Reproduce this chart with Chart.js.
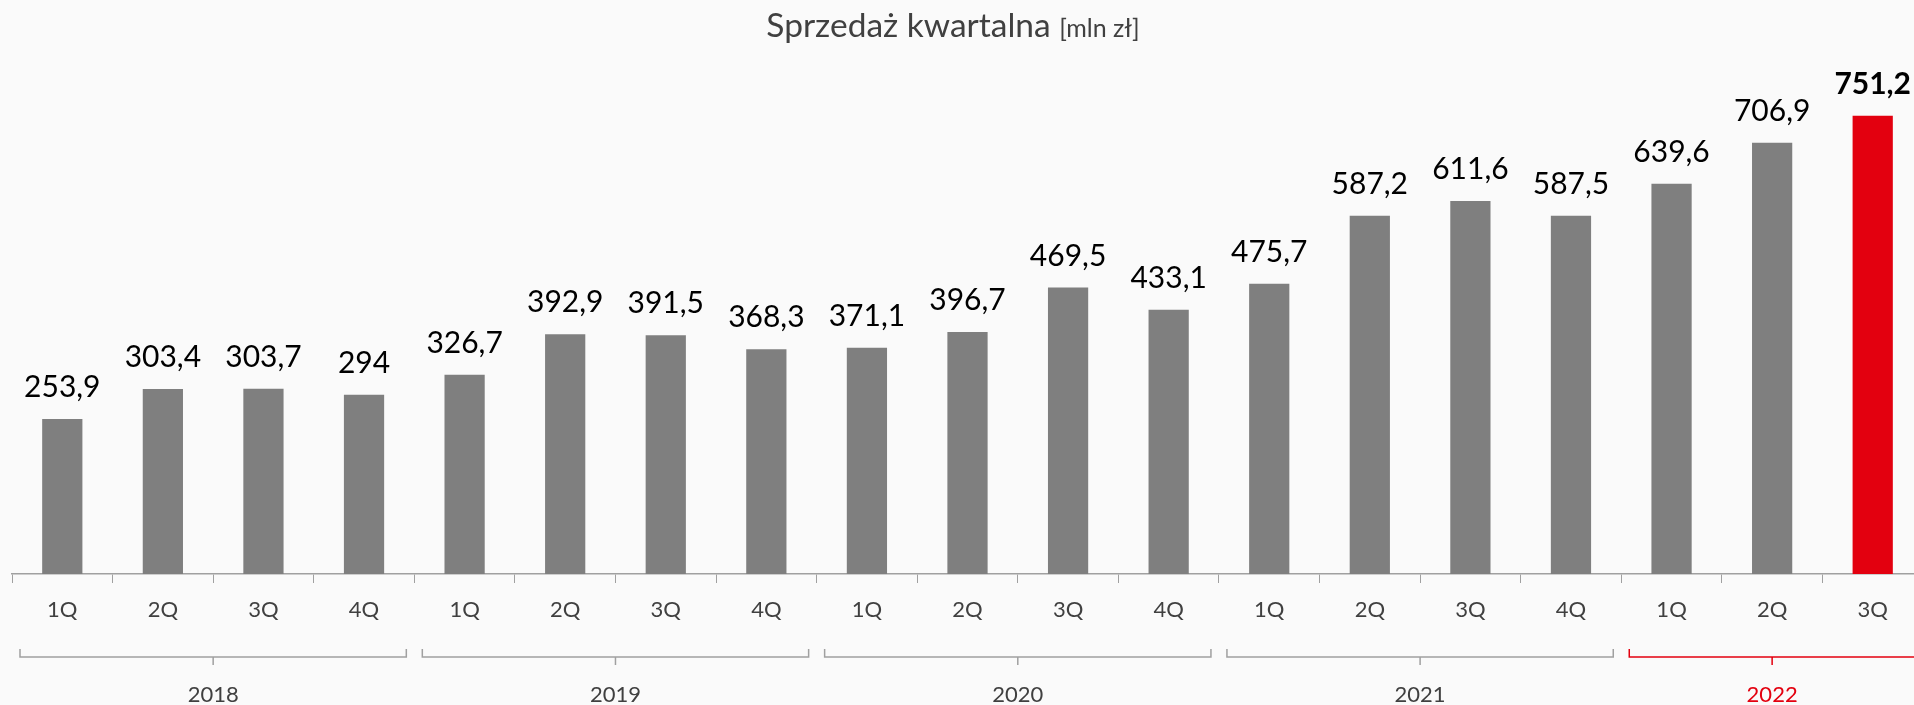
<!DOCTYPE html>
<html>
<head>
<meta charset="utf-8">
<script src="https://cdn.jsdelivr.net/npm/chart.js@4.4.0/dist/chart.umd.min.js"></script>
<style>
  html, body { margin: 0; padding: 0; background: #fafafa; overflow: hidden; }
  #wrap { width: 1926px; height: 705px; }
</style>
</head>
<body>
<div id="wrap"><canvas id="c" width="1926" height="705"></canvas></div>
<script>
// Sprzedaż kwartalna – dane
const quarters = ['1Q', '2Q', '3Q', '4Q', '1Q', '2Q', '3Q', '4Q', '1Q', '2Q', '3Q', '4Q', '1Q', '2Q', '3Q', '4Q', '1Q', '2Q', '3Q'];
const sales = [253.9, 303.4, 303.7, 294, 326.7, 392.9, 391.5, 368.3, 371.1, 396.7, 469.5, 433.1, 475.7, 587.2, 611.6, 587.5, 639.6, 706.9, 751.2];
const years = ['2018', '2019', '2020', '2021', '2022'];
const yearCounts = [4, 4, 4, 4, 3];

const GRAY = '#7f7f7f';
const RED = '#e3000f';
const TEXT = '#404040';
const LINE = '#a0a0a0';
const FONT = 'Lato, "Open Sans", sans-serif';

const barColors = sales.map((v, i) => i === sales.length - 1 ? RED : GRAY);

// tytuł z mniejszą jednostką
const titlePlugin = {
    id: 'titleText',
    afterDraw(chart) {
        const ctx = chart.ctx;
        ctx.save();
        ctx.fillStyle = TEXT;
        ctx.textBaseline = 'alphabetic';
        ctx.textAlign = 'left';
        const main = 'Sprzedaż kwartalna ';
        const unit = '[mln zł]';
        ctx.font = '33.5px ' + FONT;
        const w1 = ctx.measureText(main).width;
        ctx.font = '25px ' + FONT;
        const w2 = ctx.measureText(unit).width;
        let x = 953 - (w1 + w2) / 2;
        ctx.font = '33.5px ' + FONT;
        ctx.fillText(main, x, 37);
        ctx.font = '25px ' + FONT;
        ctx.fillText(unit, x + w1, 37);
        ctx.restore();
    }
};

// etykiety wartości nad słupkami
const valuePlugin = {
    id: 'valueLabels',
    afterDatasetsDraw(chart) {
        const ctx = chart.ctx;
        const meta = chart.getDatasetMeta(0);
        ctx.save();
        ctx.fillStyle = '#000';
        ctx.textAlign = 'center';
        ctx.textBaseline = 'alphabetic';
        meta.data.forEach((bar, i) => {
            const last = i === sales.length - 1;
            ctx.font = (last ? 'bold ' : '') + '30px ' + FONT;
            ctx.fillText(String(sales[i]).replace('.', ','), bar.x, bar.y - 22);
        });
        ctx.restore();
    }
};

// klamry z latami pod osią
const yearPlugin = {
    id: 'yearBrackets',
    afterDraw(chart) {
        const ctx = chart.ctx;
        const xs = chart.scales.x;
        const half = (xs.getPixelForValue(1) - xs.getPixelForValue(0)) / 2;
        let start = 0;
        ctx.save();
        ctx.lineWidth = 1.5;
        years.forEach((yr, k) => {
            const n = yearCounts[k];
            const xl = Math.max(14, xs.getPixelForValue(start) - half + 8);
            const xr = xs.getPixelForValue(start + n - 1) + half - 8;
            const xm = (xs.getPixelForValue(start) + xs.getPixelForValue(start + n - 1)) / 2;
            const col = yr === '2022' ? RED : LINE;
            ctx.strokeStyle = col;
            ctx.beginPath();
            ctx.moveTo(xl, 649);
            ctx.lineTo(xl, 657);
            ctx.lineTo(xr, 657);
            ctx.lineTo(xr, 649);
            ctx.moveTo(xm, 657);
            ctx.lineTo(xm, 665);
            ctx.stroke();
            ctx.fillStyle = yr === '2022' ? RED : TEXT;
            ctx.font = '22px ' + FONT;
            ctx.textAlign = 'center';
            ctx.textBaseline = 'middle';
            ctx.fillText(yr, xm, 695);
            start += n;
        });
        ctx.restore();
    }
};

new Chart(document.getElementById('c'), {
    type: 'bar',
    data: {
        labels: quarters,
        datasets: [{
            data: sales,
            backgroundColor: barColors,
            borderWidth: 0,
            barPercentage: 0.4,
            categoryPercentage: 1
        }]
    },
    options: {
        responsive: false,
        animation: false,
        layout: { padding: { left: 12, right: 3, top: 25, bottom: 0 } },
        scales: {
            x: {
                afterFit: (s) => { s.height = 131; },
                grid: { display: true, drawOnChartArea: false, drawTicks: true, tickLength: 9, color: LINE, offset: true },
                border: { display: true, color: LINE, width: 1.5 },
                ticks: { color: TEXT, font: { family: FONT, size: 22 }, padding: 14, maxRotation: 0, autoSkip: false }
            },
            y: {
                display: false,
                min: 0,
                max: 900
            }
        },
        plugins: {
            legend: { display: false },
            tooltip: { enabled: false }
        }
    },
    plugins: [titlePlugin, valuePlugin, yearPlugin]
});
</script>
</body>
</html>
